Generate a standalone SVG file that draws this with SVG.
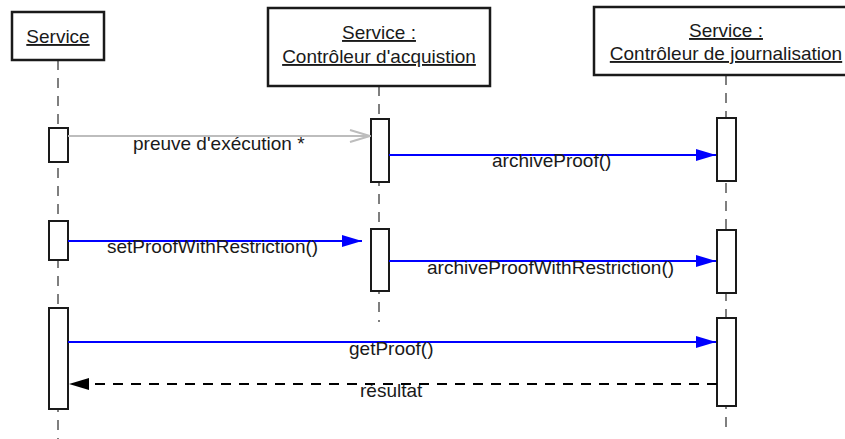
<svg xmlns="http://www.w3.org/2000/svg" width="845" height="439" viewBox="0 0 845 439">
<defs>
<style>
.hdr{fill:#fff;stroke:#1a1a1a;stroke-width:2.5}
.act{fill:#fff;stroke:#1a1a1a;stroke-width:2}
.life{stroke:#555;stroke-width:1.5;stroke-dasharray:10 8;fill:none}
.t{font-family:"Liberation Sans",Arial,sans-serif;font-size:19px;fill:#1a1a1a}
.u{text-decoration:underline}
.call{stroke:#0000ff;stroke-width:2;fill:none}
.async{stroke:#bdbdbd;stroke-width:2;fill:none}
.ret{stroke:#000;stroke-width:2;stroke-dasharray:10 8;fill:none}
</style>
<marker id="mBlue" markerWidth="20" markerHeight="12" refX="20" refY="6" orient="auto" markerUnits="userSpaceOnUse">
<path d="M0,0 L20,6 L0,12 Z" fill="#0000ff"/>
</marker>
<marker id="mOpen" markerWidth="22" markerHeight="14" refX="21" refY="7" orient="auto" markerUnits="userSpaceOnUse">
<path d="M1,1 L21,7 L1,13" fill="none" stroke="#bdbdbd" stroke-width="2"/>
</marker>
<marker id="mBlack" markerWidth="20" markerHeight="12" refX="20" refY="6" orient="auto" markerUnits="userSpaceOnUse">
<path d="M0,0 L20,6 L0,12 Z" fill="#000"/>
</marker>
</defs>
<rect width="845" height="439" fill="#fff"/>

<g id="lifelines">
<line class="life" x1="58" y1="60" x2="58" y2="439"/>
<line class="life" x1="379" y1="86" x2="379" y2="322"/>
<line class="life" x1="726" y1="75" x2="726" y2="428"/>
</g>

<g id="node-service">
<rect class="hdr" x="12" y="12" width="92" height="48"/>
<text class="t u" x="58" y="43" text-anchor="middle">Service</text>
</g>
<g id="node-acquisition">
<rect class="hdr" x="268" y="8" width="222" height="78"/>
<text class="t u" x="379" y="39" text-anchor="middle">Service :</text>
<text class="t u" x="379" y="63" text-anchor="middle">Contrôleur d'acquistion</text>
</g>
<g id="node-journalisation">
<rect class="hdr" x="594" y="7" width="264" height="68"/>
<text class="t u" x="726" y="37" text-anchor="middle">Service :</text>
<text class="t u" x="726" y="60" text-anchor="middle">Contrôleur de journalisation</text>
</g>

<g id="activations">
<rect class="act" x="49" y="128" width="19" height="34"/>
<rect class="act" x="371" y="119" width="18" height="63"/>
<rect class="act" x="717" y="118" width="19" height="63"/>
<rect class="act" x="49" y="221" width="19" height="39"/>
<rect class="act" x="371" y="229" width="18" height="62"/>
<rect class="act" x="717" y="230" width="19" height="63"/>
<rect class="act" x="49" y="308" width="19" height="101"/>
<rect class="act" x="717" y="318" width="19" height="88"/>
</g>

<g id="connectors">
<line class="async" x1="68" y1="136" x2="370" y2="136" marker-end="url(#mOpen)"/>
<line class="call" x1="389" y1="155" x2="716" y2="155" marker-end="url(#mBlue)"/>
<line class="call" x1="68" y1="241" x2="362" y2="241" marker-end="url(#mBlue)"/>
<line class="call" x1="389" y1="261" x2="716" y2="261" marker-end="url(#mBlue)"/>
<line class="call" x1="68" y1="342" x2="716" y2="342" marker-end="url(#mBlue)"/>
<line class="ret" x1="717" y1="384" x2="69" y2="384" marker-end="url(#mBlack)"/>
</g>

<g id="labels">
<text class="t" x="133" y="150">preuve d'exécution *</text>
<text class="t" x="492" y="167">archiveProof()</text>
<text class="t" x="107" y="253">setProofWithRestriction()</text>
<text class="t" x="427" y="274">archiveProofWithRestriction()</text>
<text class="t" x="349" y="355">getProof()</text>
<text class="t" x="360" y="397">résultat</text>
</g>
</svg>
